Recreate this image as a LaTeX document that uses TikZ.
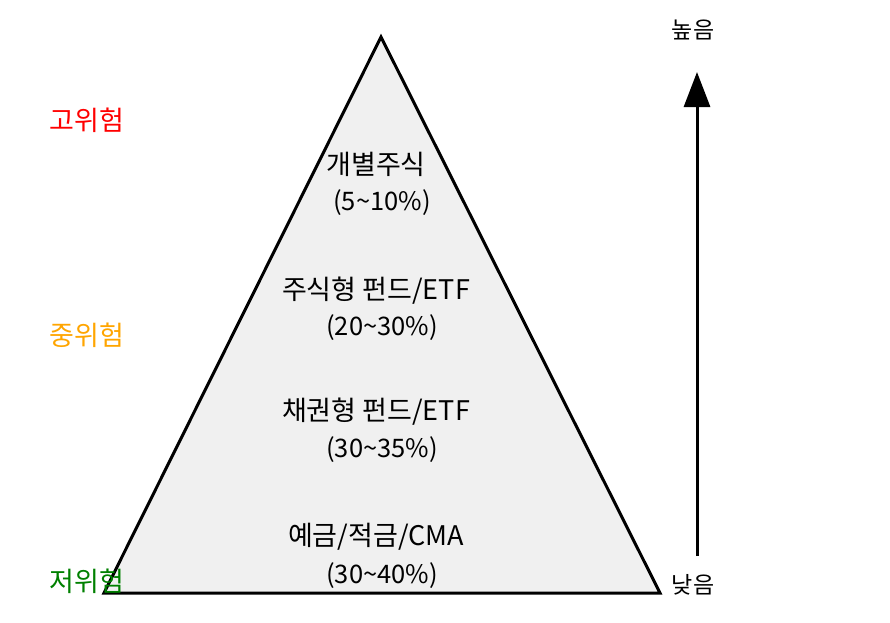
\documentclass[tikz,border=0pt]{standalone}
\usepackage{fontspec}
\setmainfont{Noto Sans CJK KR}
\usetikzlibrary{arrows.meta}
\definecolor{tri}{HTML}{F0F0F0}
\definecolor{hi}{HTML}{FF0000}
\definecolor{mid}{HTML}{FFA500}
\definecolor{lo}{HTML}{008000}
\begin{document}
\begin{tikzpicture}[x=1pt,y=-1pt,
  lbl/.style={font=\fontsize{27}{32}\selectfont, inner sep=0pt, anchor=center},
  pct/.style={font=\fontsize{25.5}{30}\selectfont, inner sep=0pt, anchor=center},
  risk/.style={lbl},
  ends/.style={font=\fontsize{23}{27}\selectfont, inner sep=0pt, anchor=center},
  pyr/.style={draw=black, fill=tri, line width=3pt, line join=miter}]
\useasboundingbox (0,0) rectangle (890,622);
\coordinate (apex) at (381,37);
\coordinate (bl) at (104,593);
\coordinate (br) at (660,593);
\draw[pyr] (apex) -- (br) -- (bl) -- cycle;
\node[lbl] (t1) at (376,164) {개별주식};
\node[pct] (p1) at (382,203) {(5\textasciitilde10\%)};
\node[lbl] (t2) at (376,291) {주식형 펀드/ETF};
\node[pct] (p2) at (382,328) {(20\textasciitilde30\%)};
\node[lbl] (t3) at (376,412) {채권형 펀드/ETF};
\node[pct] (p3) at (382,450) {(30\textasciitilde35\%)};
\node[lbl] (t4) at (376,537) {예금/적금/CMA};
\node[pct] (p4) at (382,576) {(30\textasciitilde40\%)};
\node[risk, text=hi] (r1) at (87,120) {고위험};
\node[risk, text=mid] (r2) at (87,335) {중위험};
\node[risk, text=lo] (r3) at (87,581) {저위험};
\node[ends] (high) at (693,30) {높음};
\node[ends] (low) at (693,585) {낮음};
\coordinate (abot) at (697,556);
\coordinate (atop) at (697,72);
\draw[line width=3pt, -{Triangle[length=35pt,width=26pt]}] (abot) -- (atop);
\end{tikzpicture}
\end{document}
